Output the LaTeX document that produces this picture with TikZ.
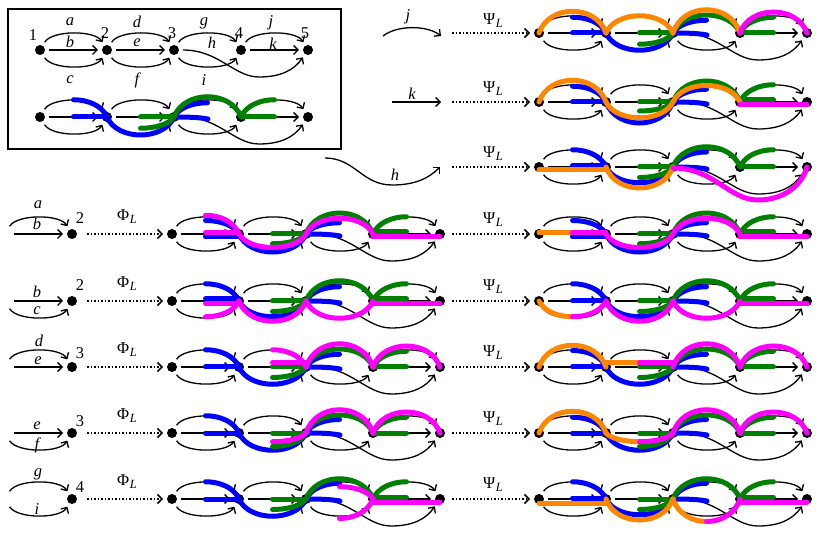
\documentclass[tikz,border=0pt]{standalone}
\usepackage{fontspec}
\setmainfont{Liberation Serif}
\usetikzlibrary{arrows.meta}
\definecolor{cblue}{RGB}{0,0,255}
\definecolor{cgreen}{RGB}{0,128,0}
\definecolor{corange}{RGB}{255,135,0}
\definecolor{cmag}{RGB}{255,0,255}
\newcommand\PhiL{Φ\kern0.5pt\raisebox{-0.4ex}{\fontsize{12.5}{13}\selectfont\itshape L}}
\newcommand\PsiL{Ψ\kern0.5pt\raisebox{-0.4ex}{\fontsize{12.5}{13}\selectfont\itshape L}}
\tikzset{
  vtx/.style={circle,fill=black,inner sep=0pt,minimum size=10pt,outer sep=4pt},
  ghost/.style={circle,inner sep=0pt,minimum size=10pt,outer sep=4pt},
  lnk/.style={line width=1.3pt,-{Straight Barb[length=4.5pt,width=9pt]}},
  hlt/.style={line width=5pt,line cap=round},
  dotarrow/.style={dotted,line width=1.5pt,-{Straight Barb[length=4.5pt,width=9pt]}},
  lbl/.style={inner sep=0pt,font=\fontsize{16.5}{18}\selectfont},
  ilbl/.style={inner sep=0pt,font=\fontsize{16.5}{18}\selectfont\itshape},
}
\newcommand\basegraph[3]{%
 \begin{scope}[shift={(#2,#3)}]
  \node[vtx] (#1-1) at (0,0) {};
  \node[vtx] (#1-2) at (67,0) {};
  \node[vtx] (#1-3) at (134,0) {};
  \node[vtx] (#1-4) at (201,0) {};
  \node[vtx] (#1-5) at (268,0) {};
  \coordinate (#1-hb) at (219,27);
  \draw[lnk] (#1-1) .. controls +(12,-20) and +(-12,-20) .. (#1-2);
  \draw[lnk] (#1-1) -- (#1-2);
  \draw[lnk] (#1-1) .. controls +(12,20) and +(-12,20) .. (#1-2);
  \draw[lnk] (#1-2) .. controls +(12,-20) and +(-12,-20) .. (#1-3);
  \draw[lnk] (#1-2) -- (#1-3);
  \draw[lnk] (#1-2) .. controls +(12,20) and +(-12,20) .. (#1-3);
  \draw[lnk] (#1-3) .. controls +(12,-20) and +(-12,-20) .. (#1-4);
  \draw[lnk] (#1-3) .. controls +(12,20) and +(-12,20) .. (#1-4);
  \draw[lnk] (#1-3) .. controls +(45,0) and +(-25,0) .. (#1-hb) .. controls +(22,0) and +(-14,20) .. (#1-5);
  \draw[lnk] (#1-4) .. controls +(12,-20) and +(-12,-20) .. (#1-5);
  \draw[lnk] (#1-4) -- (#1-5);
 \end{scope}}
\newcommand\ovA[3]{\draw[hlt,#1,xshift=#2pt] (0,0) .. controls (10,#3) and (57,#3) .. (67,0);}
\newcommand\ovAa[3]{\draw[hlt,#1,xshift=#2pt] (0,0) .. controls (5,{0.5*(#3)}) and (19.25,{0.75*(#3)}) .. (33.5,{0.75*(#3)});}
\newcommand\ovAb[3]{\draw[hlt,#1,xshift=#2pt] (33.5,{0.75*(#3)}) .. controls (47.75,{0.75*(#3)}) and (62,{0.5*(#3)}) .. (67,0);}
\newcommand\ovS[3]{\draw[hlt,#1,xshift=#2pt] (0,#3) -- (67,#3);}
\newcommand\ovSa[3]{\draw[hlt,#1,xshift=#2pt] (0,#3) -- (33.5,#3);}
\newcommand\ovSb[3]{\draw[hlt,#1,xshift=#2pt] (33.5,#3) -- (67,#3);}
\newcommand\ovH[1]{\draw[hlt,#1] (134,0) .. controls (150,0) and (160,0.5) .. (168,2);}
\newcommand\ovHfull[1]{\draw[hlt,#1] (134,1) .. controls (175,1) and (190,33) .. (219,33) .. controls (245,33) and (263,18) .. (268,0);}
\newcommand\stdblue[4]{\ovAb{cblue}{0}{#1}\ovSb{cblue}{0}{#2}\ovA{cblue}{67}{#3}\ovAa{cblue}{134}{#4}\ovH{cblue}}
\newcommand\stdgreen[4]{\ovSb{cgreen}{67}{0}\ovAb{cgreen}{67}{#1}\ovA{cgreen}{134}{#2}\ovAa{cgreen}{201}{#3}\ovSa{cgreen}{201}{#4}}
\begin{document}
\begin{tikzpicture}[x=1pt,y=-1pt]
\useasboundingbox (0,0) rectangle (819,534);
\draw[line width=1.6pt] (8,9) rectangle (341,149);
% ---------- base graphs
\basegraph{A}{40}{50}
\basegraph{B}{40}{117}
\basegraph{P1}{539}{33}
\basegraph{P2}{539}{102}
\basegraph{P3}{539}{167}
\basegraph{L1}{172}{234}
\basegraph{R1}{539}{234}
\basegraph{L2}{172}{301}
\basegraph{R2}{539}{301}
\basegraph{L3}{172}{367}
\basegraph{R3}{539}{367}
\basegraph{L4}{172}{433}
\basegraph{R4}{539}{433}
\basegraph{L5}{172}{499}
\basegraph{R5}{539}{499}
% ---------- box labels
\node[lbl] (tn1) at (33,35) {1};
\node[lbl] (tn2) at (105,33) {2};
\node[lbl] (tn3) at (172,33) {3};
\node[lbl] (tn4) at (239,33) {4};
\node[lbl] (tn5) at (305,33) {5};
\node[ilbl] (ta) at (70,22) {a};
\node[ilbl] (tb) at (70,42) {b};
\node[ilbl] (tc) at (70,80) {c};
\node[ilbl] (td) at (137,22) {d};
\node[ilbl] (te) at (137,43) {e};
\node[ilbl] (tf) at (137,80) {f};
\node[ilbl] (tg) at (204,23) {g};
\node[ilbl] (th) at (212,43) {h};
\node[ilbl] (ti) at (204,80) {i};
\node[ilbl] (tj) at (271,23) {j};
\node[ilbl] (tk) at (273,44) {k};
% ---------- top middle arrows
\coordinate (jS) at (383,36); \coordinate (jE) at (441,36);
\draw[lnk] (jS) .. controls +(14,-11) and +(-14,-11) .. (jE);
\node[ilbl] (jl) at (408,17) {j};
\coordinate (kS) at (392,102); \coordinate (kE) at (441,102);
\draw[lnk] (kS) -- (kE);
\node[ilbl] (kl) at (412,94) {k};
\coordinate (hS) at (325,158); \coordinate (hB) at (392,185); \coordinate (hE) at (440,167);
\draw[lnk] (hS) .. controls +(30,0) and +(-30,0) .. (hB) .. controls +(22,0) and +(-12,12) .. (hE);
\node[ilbl] (hl) at (395,175) {h};
\coordinate (d1) at (452,33); \coordinate (d2) at (452,102); \coordinate (d3) at (452,167);
\draw[dotarrow] (d1) -- (P1-1);
\draw[dotarrow] (d2) -- (P2-1);
\draw[dotarrow] (d3) -- (P3-1);
\node[lbl] (ps1) at (493,21) {\PsiL};
\node[lbl] (ps2) at (493,89) {\PsiL};
\node[lbl] (ps3) at (493,154) {\PsiL};
% ---------- left fragments
\node[ghost] (f1s) at (5,234) {}; \node[vtx] (f1n) at (72,234) {};
\draw[lnk] (f1s) .. controls +(12,-20) and +(-12,-20) .. (f1n);
\draw[lnk] (f1s) -- (f1n);
\node[ilbl] (f1a) at (38,205) {a}; \node[ilbl] (f1b) at (37,224) {b}; \node[lbl] (f1k) at (80,218) {2};
\node[ghost] (f2s) at (5,301) {}; \node[vtx] (f2n) at (72,301) {};
\draw[lnk] (f2s) -- (f2n);
\draw[lnk] (f2s) .. controls +(12,20) and +(-12,20) .. (f2n);
\node[ilbl] (f2a) at (37,292) {b}; \node[ilbl] (f2b) at (37,311) {c}; \node[lbl] (f2k) at (80,285) {2};
\node[ghost] (f3s) at (5,367) {}; \node[vtx] (f3n) at (72,367) {};
\draw[lnk] (f3s) .. controls +(12,-20) and +(-12,-20) .. (f3n);
\draw[lnk] (f3s) -- (f3n);
\node[ilbl] (f3a) at (39,341) {d}; \node[ilbl] (f3b) at (38,361) {e}; \node[lbl] (f3k) at (80,353) {3};
\node[ghost] (f4s) at (5,433) {}; \node[vtx] (f4n) at (72,433) {};
\draw[lnk] (f4s) -- (f4n);
\draw[lnk] (f4s) .. controls +(12,20) and +(-12,20) .. (f4n);
\node[ilbl] (f4a) at (37,426) {e}; \node[ilbl] (f4b) at (37,445) {f}; \node[lbl] (f4k) at (80,421) {3};
\node[ghost] (f5s) at (5,499) {}; \node[vtx] (f5n) at (72,499) {};
\draw[lnk] (f5s) .. controls +(12,-20) and +(-12,-20) .. (f5n);
\draw[lnk] (f5s) .. controls +(12,20) and +(-12,20) .. (f5n);
\node[ilbl] (f5a) at (38,474) {g}; \node[ilbl] (f5b) at (37,509) {i}; \node[lbl] (f5k) at (80,487) {4};
% dotted arrows of rows
\foreach \r in {1,...,5} {
  \draw[dotarrow,shorten <=6pt] (f\r n) -- (L\r-1);
  \draw[dotarrow,shorten <=3pt] (L\r-5) -- (R\r-1);
}
\node[lbl] (ph1) at (127,217) {\PhiL}; \node[lbl] (qs1) at (493,220) {\PsiL};
\node[lbl] (ph2) at (127,284) {\PhiL}; \node[lbl] (qs2) at (493,287) {\PsiL};
\node[lbl] (ph3) at (127,350) {\PhiL}; \node[lbl] (qs3) at (493,353) {\PsiL};
\node[lbl] (ph4) at (127,416) {\PhiL}; \node[lbl] (qs4) at (493,419) {\PsiL};
\node[lbl] (ph5) at (127,482) {\PhiL}; \node[lbl] (qs5) at (493,485) {\PsiL};
% ---------- overlays
\begin{scope}[shift={(40,117)}]
 \stdblue{-23}{0}{24}{-19}\stdgreen{15}{-27}{-23}{0}
\end{scope}
\begin{scope}[shift={(539,33)}]
 \stdblue{-21}{0}{23}{-17}\stdgreen{15}{-24}{-21}{0}
 \ovA{corange}{0}{-29}\ovA{corange}{67}{-23}\ovA{corange}{134}{-31}
 \ovA{cmag}{201}{-28}
\end{scope}
\begin{scope}[shift={(539,102)}]
 \stdblue{-21}{0}{28}{-17}\stdgreen{12}{-28}{-23}{-2}
 \ovA{corange}{0}{-29}\ovA{corange}{67}{21}\ovA{corange}{134}{-22}
 \ovS{cmag}{201}{2.5}
\end{scope}
\begin{scope}[shift={(539,167)}]
 \stdblue{-23}{-1.5}{21}{-20}\stdgreen{14}{-27}{-23}{0}
 \ovS{corange}{0}{3}\ovA{corange}{67}{28}
 \ovHfull{cmag}
\end{scope}
\begin{scope}[shift={(172,234)}]
 \stdblue{-18}{3}{24}{-15}\stdgreen{13}{-28}{-23}{-2}
 \ovAb{cmag}{0}{-25}\ovSb{cmag}{0}{-1.5}\ovA{cmag}{67}{18}\ovA{cmag}{134}{-21}\ovS{cmag}{201}{2.5}
\end{scope}
\begin{scope}[shift={(539,234)}]
 \stdblue{-18}{3}{24}{-15}\stdgreen{13}{-28}{-23}{-2}
 \ovSa{corange}{0}{-1.5}
 \ovSb{cmag}{0}{-1.5}\ovA{cmag}{67}{18}\ovA{cmag}{134}{-21}\ovS{cmag}{201}{2.5}
\end{scope}
\begin{scope}[shift={(172,301)}]
 \stdblue{-23}{-2}{21}{-19}\stdgreen{14}{-27}{-23}{-2}
 \ovSb{cmag}{0}{2.5}\ovAb{cmag}{0}{21}\ovA{cmag}{67}{27}\ovA{cmag}{134}{23}\ovS{cmag}{201}{2.5}
\end{scope}
\begin{scope}[shift={(539,301)}]
 \stdblue{-23}{0}{21}{-19}\stdgreen{14}{-27}{-23}{-2}
 \ovAa{corange}{0}{21}
 \ovAb{cmag}{0}{21}\ovA{cmag}{67}{27}\ovA{cmag}{134}{23}\ovS{cmag}{201}{2.5}
\end{scope}
\begin{scope}[shift={(172,367)}]
 \stdblue{-23}{0}{23}{-17}\stdgreen{14}{-24}{-21}{0}
 \ovAb{cmag}{67}{-23}\ovSb{cmag}{67}{-4.5}\ovA{cmag}{134}{-31}\ovA{cmag}{201}{-28}
\end{scope}
\begin{scope}[shift={(539,367)}]
 \stdblue{-22}{0}{23}{-17}\stdgreen{14}{-24}{-21}{0}
 \ovA{corange}{0}{-29}\ovSa{corange}{67}{-4.5}
 \ovSb{cmag}{67}{-4.5}\ovA{cmag}{134}{-31}\ovA{cmag}{201}{-28}
\end{scope}
\begin{scope}[shift={(172,433)}]
 \stdblue{-23}{0}{23}{-18}\stdgreen{18}{-24}{-21}{0}
 \ovAb{cmag}{67}{11.6}\ovA{cmag}{134}{-31}\ovA{cmag}{201}{-28}
\end{scope}
\begin{scope}[shift={(539,433)}]
 \stdblue{-21}{0}{23}{-18}\stdgreen{18}{-24}{-21}{0}
 \ovA{corange}{0}{-29}\ovAa{corange}{67}{11.6}
 \ovAb{cmag}{67}{11.6}\ovA{cmag}{134}{-31}\ovA{cmag}{201}{-28}
\end{scope}
\begin{scope}[shift={(172,499)}]
 \stdblue{-23}{0}{23}{-21}\stdgreen{14}{-27}{-23}{-1.5}
 \ovAb{cmag}{134}{-16.5}\ovAb{cmag}{134}{26}\ovS{cmag}{201}{3}
\end{scope}
\begin{scope}[shift={(539,499)}]
 \stdblue{-23}{-1}{21}{-21}\stdgreen{14}{-27}{-23}{-1.5}
 \ovS{corange}{0}{4}\ovA{corange}{67}{28}\ovAa{corange}{134}{30}
 \ovAb{cmag}{134}{30}\ovS{cmag}{201}{3}
\end{scope}
\end{tikzpicture}
\end{document}
